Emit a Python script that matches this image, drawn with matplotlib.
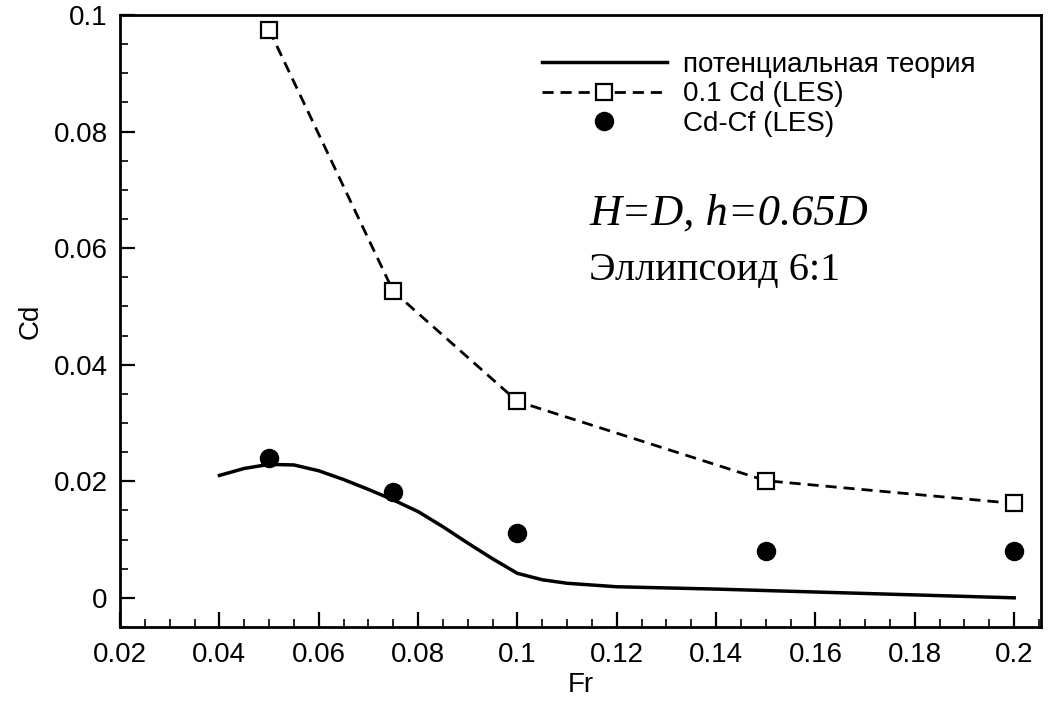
import matplotlib
matplotlib.use("Agg")
import matplotlib.pyplot as plt
from matplotlib.ticker import MultipleLocator

# potential theory curve
fr_theory = [0.04, 0.045, 0.05, 0.055, 0.06, 0.065, 0.07, 0.075, 0.08, 0.085,
             0.09, 0.095, 0.1, 0.105, 0.11, 0.12, 0.14, 0.16, 0.18, 0.2]
cd_theory = [0.0210, 0.0222, 0.0229, 0.0228, 0.0218, 0.0203, 0.0186, 0.0168, 0.0148, 0.0122,
             0.0094, 0.0067, 0.0042, 0.0031, 0.0025, 0.0019, 0.0015, 0.0010, 0.0005, 0.0000]

# LES results
fr_les = [0.05, 0.075, 0.1, 0.15, 0.2]
cd_les_01 = [0.0975, 0.0526, 0.0337, 0.0201, 0.0162]
cd_minus_cf = [0.0240, 0.0182, 0.0111, 0.0080, 0.0080]

labels = ["потенциальная теория", "0.1 Cd (LES)", "Cd-Cf (LES)"]

plt.rcParams['font.family'] = ['Liberation Sans', 'DejaVu Sans']
plt.rcParams['font.size'] = 20

fig = plt.figure(figsize=(10.53, 7.01), dpi=100)
ax = fig.add_axes([0.114, 0.1056, 0.8746, 0.873])

ax.plot(fr_theory, cd_theory, color='black', lw=2.5, label=labels[0])
ax.plot(fr_les, cd_les_01, color='black', lw=2, linestyle=(0, (4, 2.5)),
        marker='s', markersize=12, markerfacecolor='white', markeredgewidth=1.6,
        label=labels[1])
ax.plot(fr_les, cd_minus_cf, linestyle='None', marker='o', markersize=13,
        color='black', label=labels[2], zorder=5)

ax.set_xlim(0.02, 0.2054)
ax.set_ylim(-0.005, 0.1)
ax.xaxis.set_minor_locator(MultipleLocator(0.005))
ax.yaxis.set_minor_locator(MultipleLocator(0.005))
ax.set_xticks([0.02, 0.04, 0.06, 0.08, 0.1, 0.12, 0.14, 0.16, 0.18, 0.2])
ax.set_xticklabels(["0.02", "0.04", "0.06", "0.08", "0.1", "0.12", "0.14", "0.16", "0.18", "0.2"])
ax.set_yticks([0, 0.02, 0.04, 0.06, 0.08, 0.1])
ax.set_yticklabels(["0", "0.02", "0.04", "0.06", "0.08", "0.1"])

ax.tick_params(which='major', direction='in', length=11, width=1.6, pad=9)
ax.tick_params(axis='x', which='major', pad=11)
ax.tick_params(which='minor', direction='in', length=5.5, width=1.2)
for s in ax.spines.values():
    s.set_linewidth(2)

ax.set_xlabel("Fr", labelpad=3)
ax.set_ylabel("Cd", labelpad=7)

ax.text(0.1145, 0.0641, "H=D, h=0.65D", family='Liberation Serif', style='italic',
        fontsize=32)
ax.text(0.1145, 0.0546, "Эллипсоид 6:1", family='Liberation Serif', fontsize=29)

ax.legend(loc='upper left', bbox_to_anchor=(0.458, 0.9395), frameon=False,
          borderpad=0, borderaxespad=0, handlelength=4.5, handletextpad=0.58,
          labelspacing=0.12, numpoints=1)

fig.savefig("out.png", dpi=100)
